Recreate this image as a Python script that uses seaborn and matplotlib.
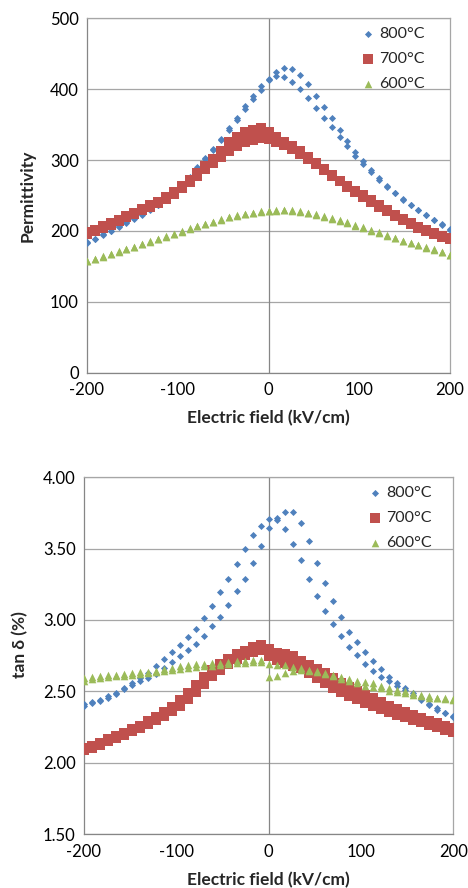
import matplotlib
matplotlib.use("Agg")
import matplotlib.pyplot as plt
import pandas as pd
import seaborn as sns

# ---------------- data ----------------
E = [-200, -191.3, -182.6, -173.9, -165.2, -156.5, -147.8, -139.1, -130.4, -121.7,
     -113.0, -104.3, -95.7, -87.0, -78.3, -69.6, -60.9, -52.2, -43.5, -34.8,
     -26.1, -17.4, -8.7, 0, 8.7, 17.4, 26.1, 34.8, 43.5, 52.2,
     60.9, 69.6, 78.3, 87.0, 95.7, 104.3, 113.0, 121.7, 130.4, 139.1,
     147.8, 156.5, 165.2, 173.9, 182.6, 191.3, 200]

series_labels = ["800°C", "700°C", "600°C"]
xticks = [-200, -100, 0, 100, 200]
eps_ticks = [0, 100, 200, 300, 400, 500]
tan_ticks = [1.50, 2.00, 2.50, 3.00, 3.50, 4.00]

# permittivity, branch a / branch b of each loop
eps800_a = [184, 189, 195, 200.5, 206.5, 212, 218, 224, 230.5, 237, 245, 254, 264, 276, 290, 303,
            316, 330, 345, 360, 376, 391, 404, 415, 424, 430, 428, 420, 407, 391, 375, 359,
            343, 327, 312, 298, 286, 275, 264, 254, 245, 237, 230, 223, 216, 210, 203]
eps800_b = [183, 188, 194, 199.5, 205.5, 211, 217, 223, 229.5, 236, 244, 253, 263, 275, 288, 301,
            314, 328, 342, 357, 372, 386, 399, 413, 418, 417, 410, 400, 387, 374, 360, 346,
            333, 320, 306, 294, 283, 272, 262, 253, 244, 236.5, 229, 222, 215.5, 209, 202]
eps700_a = [198, 202, 206.5, 211, 216, 221, 226, 231, 236, 241.5, 247.5, 255, 263.5, 272.5, 282, 292,
            302, 313, 325, 333, 339, 343, 345, 339, 332, 326, 320, 313, 304, 296, 287, 279,
            271, 264, 257, 250, 243, 236, 229, 223, 217, 211, 206, 201, 197, 193, 190]
eps700_b = [196, 200, 204.5, 209, 214, 219, 224, 229, 234, 239.5, 245.5, 252.5, 260.5, 269, 278, 287,
            296, 305, 313, 320, 325, 329, 331, 330, 326, 321, 315, 309, 302, 294, 286, 278,
            270, 262, 255, 248, 241, 234, 228, 221, 215, 209.5, 204, 199.5, 195.5, 191.5, 188]
eps600_a = [158, 161, 164, 167.5, 171, 174.5, 178, 182, 185.5, 189, 192.5, 196, 200, 203.5, 207, 210,
            213, 216.5, 219.5, 222, 224, 226, 227.5, 228.5, 229.5, 230, 229.5, 228, 226, 223.5, 221, 218,
            215, 212, 208.5, 205, 201.5, 198, 194, 190, 186.5, 183, 180, 177, 174, 170.5, 166.5]
eps600_b = [157, 160, 163.5, 167, 170.5, 174, 177.5, 181, 185, 188.5, 192, 195.5, 199, 203, 206.5, 209.5,
            212.5, 216, 219, 221.5, 223.5, 225.5, 227, 228, 228.5, 229, 228.5, 227, 225, 222.5, 220, 217,
            214, 211, 207.5, 204, 200.5, 197, 193.5, 189.5, 186, 182.5, 179.5, 176.5, 173.5, 170, 166]

# tan delta (%), branch a / branch b
tan800_a = [2.41, 2.425, 2.44, 2.465, 2.49, 2.525, 2.555, 2.59, 2.63, 2.675, 2.725, 2.775, 2.825, 2.88,
            2.94, 3.015, 3.095, 3.195, 3.285, 3.395, 3.495, 3.595, 3.66, 3.705, 3.715, 3.755, 3.755,
            3.68, 3.555, 3.40, 3.26, 3.13, 3.02, 2.915, 2.845, 2.775, 2.71, 2.655, 2.60, 2.555, 2.52,
            2.485, 2.45, 2.41, 2.38, 2.35, 2.325]
tan800_b = [2.40, 2.415, 2.435, 2.455, 2.48, 2.515, 2.545, 2.575, 2.595, 2.62, 2.66, 2.705, 2.745, 2.79,
            2.835, 2.89, 2.955, 3.02, 3.105, 3.20, 3.29, 3.40, 3.52, 3.645, 3.70, 3.64, 3.535, 3.42,
            3.29, 3.17, 3.065, 2.97, 2.885, 2.81, 2.755, 2.69, 2.645, 2.60, 2.57, 2.54, 2.51, 2.475,
            2.44, 2.405, 2.37, 2.345, 2.32]
tan700_a = [2.10, 2.12, 2.14, 2.165, 2.185, 2.21, 2.235, 2.26, 2.29, 2.32, 2.355, 2.39, 2.44, 2.49,
            2.545, 2.60, 2.65, 2.69, 2.73, 2.76, 2.785, 2.81, 2.825, 2.795, 2.77, 2.76, 2.745, 2.715,
            2.685, 2.655, 2.625, 2.59, 2.56, 2.53, 2.50, 2.475, 2.45, 2.425, 2.40, 2.375, 2.355, 2.335,
            2.315, 2.295, 2.275, 2.26, 2.245]
tan700_b = [2.09, 2.105, 2.125, 2.15, 2.17, 2.195, 2.22, 2.245, 2.27, 2.30, 2.33, 2.36, 2.40, 2.445,
            2.495, 2.55, 2.605, 2.65, 2.69, 2.725, 2.755, 2.775, 2.79, 2.745, 2.72, 2.70, 2.68, 2.66,
            2.625, 2.59, 2.56, 2.525, 2.495, 2.47, 2.445, 2.42, 2.40, 2.375, 2.355, 2.335, 2.32, 2.30,
            2.285, 2.265, 2.25, 2.23, 2.215]
tan600_a = [2.59, 2.597, 2.605, 2.612, 2.617, 2.623, 2.628, 2.634, 2.638, 2.645, 2.655, 2.665, 2.675,
            2.685, 2.69, 2.69, 2.695, 2.70, 2.705, 2.71, 2.712, 2.718, 2.72, 2.69, 2.685, 2.684, 2.67,
            2.66, 2.65, 2.64, 2.628, 2.615, 2.60, 2.588, 2.575, 2.565, 2.555, 2.54, 2.525, 2.51, 2.50,
            2.485, 2.475, 2.465, 2.455, 2.45, 2.445]
tan600_b = [2.575, 2.585, 2.592, 2.60, 2.605, 2.61, 2.615, 2.62, 2.625, 2.632, 2.64, 2.648, 2.655,
            2.662, 2.67, 2.675, 2.68, 2.685, 2.69, 2.695, 2.70, 2.705, 2.705, 2.60, 2.61, 2.626, 2.645,
            2.65, 2.645, 2.635, 2.62, 2.605, 2.585, 2.57, 2.555, 2.54, 2.53, 2.52, 2.505, 2.495, 2.485,
            2.475, 2.465, 2.455, 2.45, 2.445, 2.44]


def long_table(a800, b800, a700, b700, a600, b600):
    rows = []
    for lab, (a, b) in zip(series_labels, [(a800, b800), (a700, b700), (a600, b600)]):
        for e, v in zip(E, a):
            rows.append((e, v, lab, "a"))
        for e, v in zip(E, b):
            rows.append((e, v, lab, "b"))
    return pd.DataFrame(rows, columns=["E", "val", "series", "branch"])


df_eps = long_table(eps800_a, eps800_b, eps700_a, eps700_b, eps600_a, eps600_b)
df_tan = long_table(tan800_a, tan800_b, tan700_a, tan700_b, tan600_a, tan600_b)

# ---------------- style ----------------
sns.set_style("white")
plt.rcParams["font.family"] = ["Lato", "DejaVu Sans"]
plt.rcParams["axes.unicode_minus"] = False

colors = {"800°C": "#4F81BD", "700°C": "#C0504D", "600°C": "#9BBB59"}
markers = {"800°C": "D", "700°C": "s", "600°C": "^"}
sizes = {"800°C": 13, "700°C": 42, "600°C": 30}

GRID = "#A6A6A6"
AXIS = "#868686"

fig = plt.figure(figsize=(4.68, 8.88), dpi=100)
W, H = 468, 888
ax1 = fig.add_axes([87 / W, 1 - 372.7 / H, 363 / W, 354.4 / H])
ax2 = fig.add_axes([84 / W, 1 - 834 / H, 369.3 / W, 356.7 / H])


def draw(ax, df, ylim, yticks, yfmt, ylabel, ylab_x, ylab_y, leg_anchor):
    ax.set_xlim(-200, 200)
    ax.set_ylim(*ylim)
    ax.set_yticks(yticks)
    ax.set_xticks(xticks)
    ax.yaxis.grid(True, color=GRID, lw=0.9)
    ax.xaxis.grid(False)
    ax.set_axisbelow(True)
    ax.axvline(0, color=AXIS, lw=0.9, zorder=1)
    for lab in series_labels:
        sub = df[df["series"] == lab]
        sns.scatterplot(data=sub, x="E", y="val", ax=ax, marker=markers[lab],
                        s=sizes[lab], color=colors[lab], linewidth=0, label=lab,
                        zorder=3)
    ax.set_yticklabels([yfmt(t) for t in yticks])
    ax.set_xticklabels([str(t) for t in xticks])
    ax.tick_params(axis="both", which="major", labelsize=12, color=AXIS,
                   direction="out", length=4, width=0.8, colors="black")
    ax.tick_params(axis="x", pad=3)
    ax.tick_params(axis="y", pad=2)
    for side in ["top", "right"]:
        ax.spines[side].set_color(GRID)
        ax.spines[side].set_linewidth(0.9)
    for side in ["left", "bottom"]:
        ax.spines[side].set_color(AXIS)
        ax.spines[side].set_linewidth(0.9)
    ax.set_xlabel("Electric field (kV/cm)", fontsize=12.5, fontweight="bold")
    ax.set_ylabel(ylabel, fontsize=12.5, fontweight="bold")
    ax.xaxis.set_label_coords(0.5, -0.128)
    ax.xaxis.label.set_va("center")
    ax.yaxis.set_label_coords(ylab_x, ylab_y)
    ax.yaxis.label.set_va("center")
    leg = ax.legend(loc="upper right", frameon=False, fontsize=11.5,
                    handletextpad=0.2, labelspacing=0.68, borderaxespad=0.0,
                    borderpad=0.3, handlelength=1.0, bbox_to_anchor=leg_anchor)
    return leg


draw(ax1, df_eps, (0, 500), eps_ticks, lambda t: f"{t:d}", "Permittivity", -0.163, 0.5,
     (0.945, 0.99))
draw(ax2, df_tan, (1.5, 4.0), tan_ticks, lambda t: f"{t:.2f}", "tan δ (%)", -0.172, 0.53,
     (0.955, 0.99))

fig.savefig("out.png", dpi=100)
